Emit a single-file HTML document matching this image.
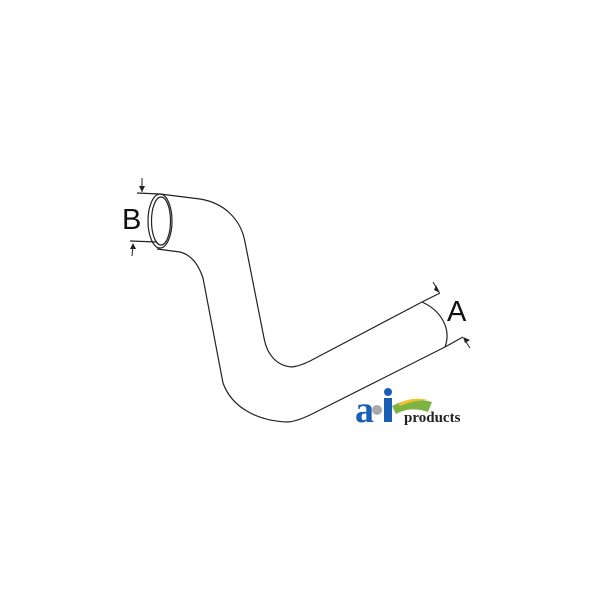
<!DOCTYPE html>
<html><head><style>body{margin:0;background:#fff}svg{display:block}</style></head><body>
<svg width="600" height="600" viewBox="0 0 600 600" xmlns="http://www.w3.org/2000/svg">
<g fill="none" stroke="#222" stroke-width="1.2">
<!-- upper/right line: B top -> A top -->
<path d="M160,194 L200,199 C225,203 241,220 245,242 L264,338 C267,355 277,366 292,367 Q300,366 310,361 L422,302"/>
<!-- lower/left line: B bottom -> A bottom -->
<path d="M157,249 L180,252 C192,255 199,266 203,278 L223,383 C232,408 258,421 288,422 Q298,421 312,414 L445,347"/>
<!-- A cap -->
<path d="M422,302 C440,310 452,328 445,347"/>
<!-- B ellipses -->
<ellipse cx="160" cy="221" rx="12" ry="27"/>
<ellipse cx="161" cy="221" rx="9.5" ry="24"/>
<!-- B extension -->
<path d="M137,193 L160,194 M130,241 L157,242"/>
<path d="M142,178 L142,192 M132,256 L133,244" stroke-width="1"/>
<!-- A extension -->
<path d="M422,302 L440,293 M445,347 L463,337"/>
<path d="M433,282 L439,292 M470,348 L464,339" stroke-width="1"/>
</g>
<path d="M142,192 l-3,-6 l6,0z M133,243 l-3,6 l6,0z M440,293 l-6,-3 l2,-5z M463,337 l2,6 l5,-3z" fill="#222"/>
<text x="122" y="229" font-family="Liberation Sans, sans-serif" font-size="29" fill="#111">B</text>
<text x="447" y="321" font-family="Liberation Sans, sans-serif" font-size="29" fill="#111">A</text>
<!-- logo -->
<path d="M392,406 Q410,396 432,402 L428,412 Q410,406 396,414z" fill="#7cb342"/>
<path d="M398,404 Q412,396 428,400 Q414,400 400,406z" fill="#f2c12e"/>
<text x="355" y="422" font-family="Liberation Serif, serif" font-weight="bold" font-size="38" fill="#1a5fb4">a</text>
<rect x="384" y="398" width="8" height="24" fill="#1a5fb4"/>
<circle cx="388" cy="392" r="4" fill="#1a5fb4"/>
<circle cx="377" cy="410" r="5" fill="#aaa"/>
<text x="404" y="422" font-family="Liberation Serif, serif" font-weight="bold" font-size="15" fill="#222">products</text>
</svg>
</body></html>
